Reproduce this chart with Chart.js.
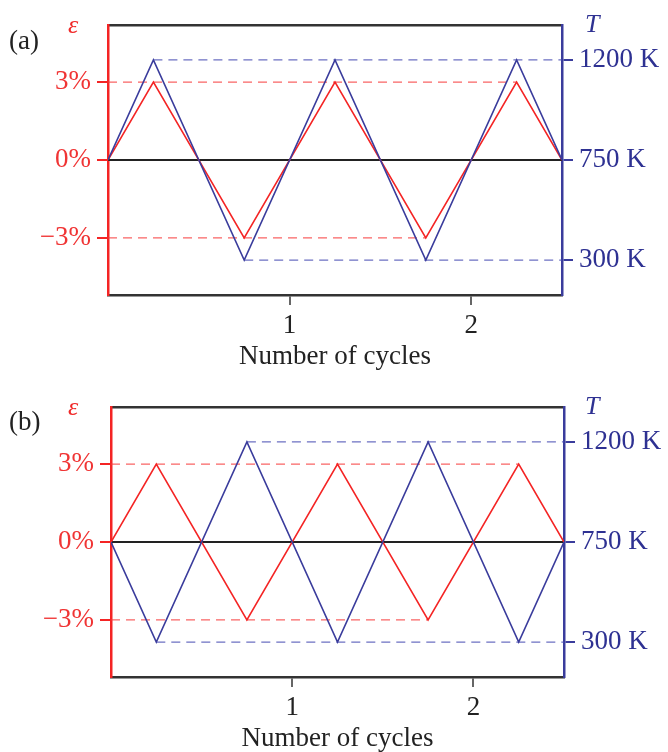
<!DOCTYPE html>
<html>
<head>
<meta charset="utf-8">
<script src="https://cdn.jsdelivr.net/npm/chart.js@4"></script>
<style>
  html, body { margin: 0; padding: 0; background: #fff; }
  #wrap { position: relative; width: 668px; height: 752px; overflow: hidden; font-family: "Liberation Serif", "DejaVu Serif", serif; }
  .panel { position: absolute; left: 0; width: 668px; }
  .panel canvas { display: block; }
  .tag { position: absolute; font-size: 27px; color: #222; line-height: 1; }
  .sym { position: absolute; font-size: 26px; font-style: italic; line-height: 1; }
</style>
</head>
<body>
<div id="wrap">
  <div class="panel" id="panelA" style="top:0;height:370px"><canvas id="chartA" width="668" height="370"></canvas></div>
  <div class="panel" id="panelB" style="top:370px;height:382px"><canvas id="chartB" width="668" height="382"></canvas></div>

  <span class="tag" style="left:9px;top:27px">(a)</span>
  <span class="sym" style="left:68px;top:12px;color:#f02828">ε</span>
  <span class="sym" style="left:585px;top:11px;color:#2e3192">T</span>

  <span class="tag" style="left:9px;top:408px">(b)</span>
  <span class="sym" style="left:68px;top:394px;color:#f02828">ε</span>
  <span class="sym" style="left:585px;top:393px;color:#2e3192">T</span>
</div>
<script>
// cycle positions of the turning points
const cycles = [0, 0.25, 0.75, 1.25, 1.75, 2.25, 2.5];

// (a) strain and temperature in phase
const strainA = [0, 3, -3, 3, -3, 3, 0];
const tempA   = [750, 1200, 300, 1200, 300, 1200, 750];

// (b) strain and temperature out of phase
const strainB = [0, 3, -3, 3, -3, 3, 0];
const tempB   = [750, 300, 1200, 300, 1200, 300, 750];

const strainTicks = [-3, 0, 3];
const tempTicks = [300, 750, 1200];
const cycleTicks = [1, 2];

// axis ranges (strain in %, temperature in K)
const strainRange = [-5.2, 5.2];
const tempRange = [143, 1357];

const RED = '#f42424';
const RED_TXT = '#f03434';
const BLUE = '#3a3c9c';
const BLUE_TXT = '#2e3192';
const SERIF = '"Liberation Serif", "DejaVu Serif", serif';

const pts = (xs, ys) => xs.map((x, i) => ({ x, y: ys[i] }));

// strain limits: dashed from the left axis to the last time the level is reached
function strainGuides(ys) {
  return [Math.max(...ys), Math.min(...ys)].map(v => {
    const last = ys.lastIndexOf(v);
    return [{ x: cycles[0], y: v }, { x: cycles[last], y: v }];
  });
}
// temperature limits: dashed from the first time the level is reached to the right axis
function tempGuides(ys) {
  return [Math.max(...ys), Math.min(...ys)].map(v => {
    const first = ys.indexOf(v);
    return [{ x: cycles[first], y: v }, { x: cycles[cycles.length - 1], y: v }];
  });
}

function makePanel(canvasId, strain, temp, box) {
  const ctx = document.getElementById(canvasId).getContext('2d');
  const xMax = cycles[cycles.length - 1];
  const datasets = [
    { data: pts(cycles, temp), yAxisID: 'yT', borderColor: BLUE, borderWidth: 1.6 },
    { data: pts(cycles, strain), yAxisID: 'y', borderColor: RED, borderWidth: 1.6 }
  ];
  tempGuides(temp).forEach(d => datasets.push({
    data: d, yAxisID: 'yT', borderColor: 'rgba(70,76,178,0.8)', borderWidth: 1.4, borderDash: [9, 6]
  }));
  strainGuides(strain).forEach(d => datasets.push({
    data: d, yAxisID: 'y', borderColor: 'rgba(246,60,60,0.8)', borderWidth: 1.4, borderDash: [9, 6]
  }));
  // zero line
  datasets.push({ data: [{ x: 0, y: 0 }, { x: xMax, y: 0 }], yAxisID: 'y', borderColor: '#222', borderWidth: 2 });

  datasets.forEach(d => { d.pointRadius = 0; d.fill = false; d.tension = 0; d.xAxisID = 'x'; });

  return new Chart(ctx, {
    type: 'line',
    data: { datasets },
    options: {
      responsive: false,
      animation: false,
      layout: { padding: 0 },
      plugins: { legend: { display: false }, tooltip: { enabled: false } },
      scales: {
        x: {
          type: 'linear', position: 'bottom', min: 0, max: xMax,
          afterBuildTicks: s => { s.ticks = cycleTicks.map(v => ({ value: v })); },
          afterFit: s => { s.height = box.bottom; },
          grid: { drawOnChartArea: false, drawTicks: true, tickLength: 10, color: '#666', lineWidth: 2 },
          border: { color: '#333', width: 2.5 },
          ticks: { color: '#222', font: { family: SERIF, size: 27 }, padding: 5, maxRotation: 0 },
          title: { display: true, text: 'Number of cycles', color: '#222', font: { family: SERIF, size: 27 }, padding: { top: 0, bottom: -3 } }
        },
        xTop: {
          type: 'linear', position: 'top', min: 0, max: xMax,
          afterFit: s => { s.height = box.top; },
          grid: { display: false, drawTicks: false },
          border: { color: '#333', width: 2.5 },
          ticks: { display: false }
        },
        y: {
          type: 'linear', position: 'left', min: strainRange[0], max: strainRange[1],
          afterBuildTicks: s => { s.ticks = strainTicks.map(v => ({ value: v })); },
          afterFit: s => { s.width = box.left; },
          grid: { drawOnChartArea: false, drawTicks: true, tickLength: 11, color: RED, lineWidth: 2 },
          border: { color: RED, width: 2.5 },
          ticks: {
            color: RED_TXT, font: { family: SERIF, size: 27 }, padding: 6,
            callback: v => (v < 0 ? '\u2212' + Math.abs(v) : v) + '%'
          }
        },
        yT: {
          type: 'linear', position: 'right', min: tempRange[0], max: tempRange[1],
          afterBuildTicks: s => { s.ticks = tempTicks.map(v => ({ value: v })); },
          afterFit: s => { s.width = box.right; },
          grid: { drawOnChartArea: false, drawTicks: true, tickLength: 11, color: BLUE, lineWidth: 2 },
          border: { color: BLUE, width: 2.5 },
          ticks: {
            color: BLUE_TXT, font: { family: SERIF, size: 27 }, padding: 6,
            callback: v => v + ' K'
          }
        }
      }
    }
  });
}

makePanel('chartA', strainA, tempA, { left: 108, right: 106, top: 25, bottom: 75 });
makePanel('chartB', strainB, tempB, { left: 111, right: 104, top: 37, bottom: 75 });
</script>
</body>
</html>
